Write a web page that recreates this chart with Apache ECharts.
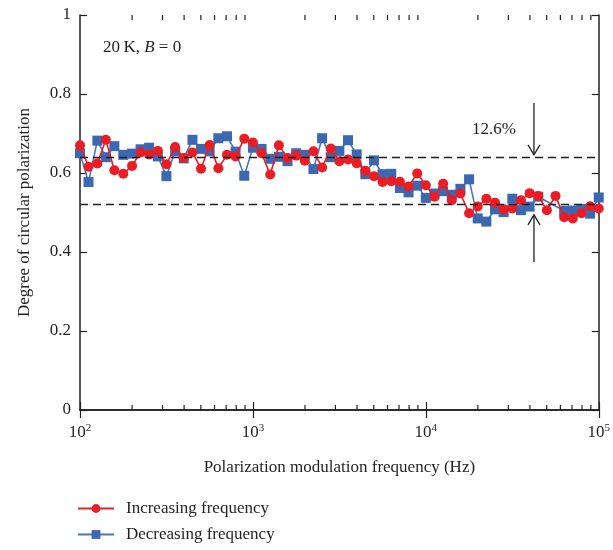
<!DOCTYPE html>
<html>
<head>
<meta charset="utf-8">
<script src="https://cdn.jsdelivr.net/npm/echarts@6/dist/echarts.min.js"></script>
<style>
  html, body { margin: 0; padding: 0; background: #fff; }
  #chart { width: 613px; height: 550px; }
</style>
</head>
<body>
<div id="chart"></div>
<script>
// modulation frequency (Hz), 20 points per decade
const frequencies = [
  100, 112, 126, 141, 158, 178, 200, 224, 251, 282,
  316, 355, 398, 447, 501, 562, 631, 708, 794, 891,
  1000, 1122, 1259, 1413, 1585, 1778, 1995, 2239, 2512, 2818,
  3162, 3548, 3981, 4467, 5012, 5623, 6310, 7079, 7943, 8913,
  10000, 11220, 12589, 14125, 15849, 17783, 19953, 22387, 25119, 28184,
  31623, 35481, 39811, 44668, 50119, 56234, 63096, 70795, 79433, 89125,
  100000
];

const increasing = [
  0.670, 0.616, 0.624, 0.684, 0.607, 0.598, 0.618, 0.652, 0.647, 0.656,
  0.622, 0.666, 0.638, 0.652, 0.611, 0.671, 0.612, 0.646, 0.642, 0.687,
  0.677, 0.650, 0.596, 0.670, 0.638, 0.644, 0.631, 0.655, 0.614, 0.662,
  0.630, 0.634, 0.625, 0.606, 0.592, 0.577, 0.579, 0.578, 0.566, 0.599,
  0.569, 0.540, 0.573, 0.531, 0.548, 0.498, 0.515, 0.535, 0.525, 0.508,
  0.510, 0.531, 0.549, 0.542, 0.506, 0.542, 0.488, 0.485, 0.498, 0.516,
  0.510
];

// two points missing near 50-56 kHz
const decreasing = [
  0.650, 0.577, 0.682, 0.640, 0.668, 0.646, 0.649, 0.660, 0.664, 0.642,
  0.592, 0.655, 0.637, 0.684, 0.661, 0.655, 0.688, 0.693, 0.654, 0.593,
  0.664, 0.661, 0.636, 0.641, 0.630, 0.650, 0.646, 0.610, 0.688, 0.640,
  0.656, 0.683, 0.647, 0.597, 0.632, 0.597, 0.598, 0.562, 0.551, 0.568,
  0.537, 0.548, 0.554, 0.545, 0.560, 0.584, 0.485, 0.477, 0.508, 0.501,
  0.535, 0.506, 0.515, 0.540, null, null, 0.504, 0.505, 0.509, 0.497,
  0.538
];

const guideLevels = [0.641, 0.515];
// [frequency, from, to]
const arrows = [
  [42200, 0.777, 0.646],
  [42200, 0.375, 0.494]
];
const minorTickFreqs = [
  200, 300, 400, 500, 600, 700, 800, 900,
  2000, 3000, 4000, 5000, 6000, 7000, 8000, 9000,
  20000, 30000, 40000, 50000, 60000, 70000, 80000, 90000
];

const FONT = "'Liberation Serif', 'DejaVu Serif', serif";
const INK = "#231f20";
const RED = "#ec1c24";
const BLUE = "#3c68b1";

const chart = echarts.init(document.getElementById("chart"));

const xAxisBase = {
  type: "log",
  logBase: 10,
  min: 100,
  max: 100000,
  splitLine: { show: false },
  axisLine: { show: true, lineStyle: { color: INK, width: 1.5 } },
  axisTick: { show: true, inside: true, length: 8, lineStyle: { color: INK, width: 1.2 } }
};

const yAxisBase = {
  type: "value",
  min: 0,
  max: 1,
  interval: 0.2,
  splitLine: { show: false },
  axisLine: { show: true, lineStyle: { color: INK, width: 1.5 } },
  axisTick: { show: true, inside: true, length: 7, lineStyle: { color: INK, width: 1.2 } }
};

const option = {
  animation: false,
  backgroundColor: "#fff",
  textStyle: { fontFamily: FONT, color: INK },
  grid: { left: 80, right: 14, top: 15, bottom: 140 },
  xAxis: [
    Object.assign({}, xAxisBase, {
      position: "bottom",
      name: "Polarization modulation frequency (Hz)",
      nameLocation: "middle",
      nameGap: 49,
      nameTextStyle: { fontFamily: FONT, fontSize: 17, color: INK },
      axisLabel: {
        margin: 13,
        fontFamily: FONT,
        fontSize: 17,
        color: INK,
        formatter: (v) => "10{s|" + Math.round(Math.log10(v)) + "}",
        rich: {
          s: { fontFamily: FONT, fontSize: 11, color: INK, padding: [0, 0, 9, 0] }
        }
      }
    }),
    Object.assign({}, xAxisBase, {
      position: "top",
      axisLabel: { show: false }
    })
  ],
  yAxis: [
    Object.assign({}, yAxisBase, {
      position: "left",
      name: "Degree of circular polarization",
      nameLocation: "middle",
      nameGap: 47,
      nameTextStyle: { fontFamily: FONT, fontSize: 17, color: INK },
      axisLabel: { margin: 9, fontFamily: FONT, fontSize: 17, color: INK }
    }),
    Object.assign({}, yAxisBase, {
      position: "right",
      axisLabel: { show: false }
    })
  ],
  legend: {
    orient: "vertical",
    left: 72,
    top: 495,
    itemWidth: 36,
    itemHeight: 11,
    itemGap: 9,
    data: ["Increasing frequency", "Decreasing frequency"],
    textStyle: { fontFamily: FONT, fontSize: 17, color: INK, padding: [0, 0, 0, 7] }
  },
  graphic: [
    {
      type: "text",
      left: 103,
      top: 39,
      style: {
        text: "20\u2009K, {i|B} = 0",
        font: "17px " + FONT,
        fill: INK,
        rich: { i: { fontFamily: FONT, fontSize: 17, fontStyle: "italic", fill: INK } }
      }
    },
    {
      type: "text",
      left: 472,
      top: 121,
      style: { text: "12.6%", font: "17px " + FONT, fill: INK }
    }
  ],
  series: [
    {
      name: "Decreasing frequency",
      type: "line",
      data: frequencies.map((f, i) => [f, decreasing[i]]),
      connectNulls: true,
      symbol: "rect",
      symbolSize: 10,
      itemStyle: { color: BLUE },
      lineStyle: { color: "#4a76bf", width: 1.6 },
      z: 3
    },
    {
      name: "Increasing frequency",
      type: "line",
      data: frequencies.map((f, i) => [f, increasing[i]]),
      symbol: "circle",
      symbolSize: 10,
      itemStyle: { color: RED },
      lineStyle: { color: RED, width: 1.6 },
      z: 4,
      markLine: {
        silent: true,
        symbol: "none",
        label: { show: false },
        lineStyle: { color: INK, type: [8, 5], width: 1.3 },
        data: guideLevels.map((v) => ({ yAxis: v }))
      }
    },
    {
      name: "arrows",
      type: "custom",
      silent: true,
      clip: false,
      z: 5,
      data: arrows,
      renderItem: (params, api) => {
        const a = api.coord([api.value(0), api.value(1)]);
        const b = api.coord([api.value(0), api.value(2)]);
        const dir = b[1] > a[1] ? 1 : -1;
        return {
          type: "group",
          children: [
            {
              type: "line",
              shape: { x1: a[0], y1: a[1], x2: b[0], y2: b[1] },
              style: { stroke: INK, lineWidth: 1.3 }
            },
            {
              type: "polyline",
              shape: {
                points: [
                  [b[0] - 6, b[1] - dir * 10],
                  [b[0], b[1]],
                  [b[0] + 6, b[1] - dir * 10]
                ]
              },
              style: { stroke: INK, lineWidth: 1.3, fill: "none" }
            }
          ]
        };
      }
    },
    {
      name: "minor ticks",
      type: "custom",
      silent: true,
      clip: false,
      z: 5,
      data: minorTickFreqs.map((f) => [f, 0]),
      renderItem: (params, api) => {
        const bottom = api.coord([api.value(0), 0]);
        const top = api.coord([api.value(0), 1]);
        const style = { stroke: INK, lineWidth: 1.2 };
        return {
          type: "group",
          children: [
            { type: "line", shape: { x1: bottom[0], y1: bottom[1], x2: bottom[0], y2: bottom[1] - 5 }, style },
            { type: "line", shape: { x1: top[0], y1: top[1], x2: top[0], y2: top[1] + 5 }, style }
          ]
        };
      }
    }
  ]
};

chart.setOption(option);
</script>
</body>
</html>
